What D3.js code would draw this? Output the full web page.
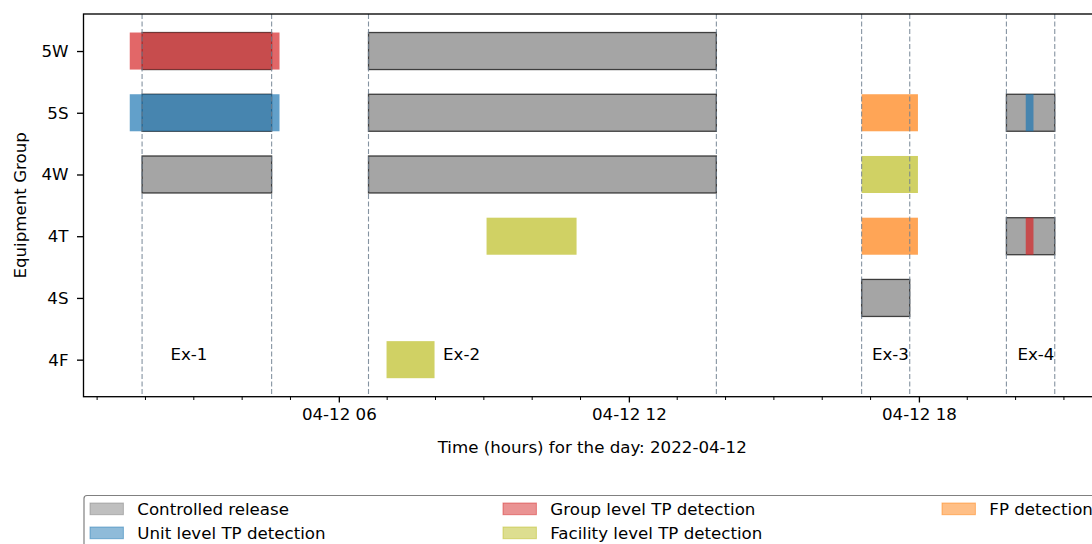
<!DOCTYPE html>
<html>
<head>
<meta charset="utf-8">
<script src="https://cdn.jsdelivr.net/npm/d3@7"></script>
<style>
html,body{margin:0;padding:0;background:#fff;}
svg{display:block;font-family:"DejaVu Sans",sans-serif;}
</style>
</head>
<body>
<svg id="chart" width="1092" height="544"></svg>
<script>
// ---- data (hours of the day 2022-04-12) ----
const groups = ["4F", "4S", "4T", "4W", "5S", "5W"];

const controlledRelease = [
  ["5W", 1.93, 4.61], ["5S", 1.93, 4.61], ["4W", 1.93, 4.61],
  ["5W", 6.614, 13.81], ["5S", 6.614, 13.81], ["4W", 6.614, 13.81],
  ["4S", 16.815, 17.81],
  ["5S", 19.81, 20.81], ["4T", 19.81, 20.81]
];
const unitTP = [["5S", 1.675, 4.773], ["5S", 20.21, 20.37]];
const groupTP = [["5W", 1.675, 4.773], ["4T", 20.21, 20.37]];
const facilityTP = [["4T", 9.056, 10.918], ["4F", 6.987, 7.98], ["4W", 16.815, 17.98]];
const fpDetection = [["5S", 16.815, 17.98], ["4T", 16.815, 17.98]];

const exerciseNames = ["Ex-1", "Ex-2", "Ex-3", "Ex-4"];
const exerciseStart = [1.93, 6.614, 16.815, 19.81];
const exerciseEnd = [4.61, 13.81, 17.81, 20.81];
const exerciseLabelPos = [2.9, 8.54, 17.41, 20.42];

const legendLabels = ["Controlled release", "Unit level TP detection",
  "Group level TP detection", "Facility level TP detection", "FP detection"];

const xLabel = "Time (hours) for the day: 2022-04-12";
const yLabel = "Equipment Group";

// ---- layout ----
const svg = d3.select("#chart");
const L = 83.5, R = 1101, T = 14, B = 396.7;
const fs = 16.67;

const day = Date.UTC(2022, 3, 12);
const toDate = h => new Date(day + h * 3600 * 1000);

const allTimes = [].concat(controlledRelease, unitTP, groupTP, facilityTP, fpDetection)
  .flatMap(d => [d[1], d[2]]).concat(exerciseStart, exerciseEnd);
const tmin = d3.min(allTimes), tmax = d3.max(allTimes);
const pad = (tmax - tmin) * 0.05;

const x = d3.scaleUtc().domain([toDate(tmin - pad), toDate(tmax + pad)]).range([L, R]);
const y = d3.scaleLinear().domain([-0.6, groups.length - 1 + 0.6]).range([B, T]);
const yc = g => y(groups.indexOf(g));
const barH = y(0) - y(0.6);

const plot = svg.append("g");

// bars
function drawBars(data, color, stroke) {
  const r = plot.append("g").selectAll("rect").data(data).join("rect")
    .attr("x", d => x(toDate(d[1])))
    .attr("width", d => x(toDate(d[2])) - x(toDate(d[1])))
    .attr("y", d => yc(d[0]) - barH / 2)
    .attr("height", barH)
    .attr("fill", color).attr("fill-opacity", 0.7);
  if (stroke) r.attr("stroke", stroke).attr("stroke-opacity", 0.7).attr("stroke-width", 1.3);
}
drawBars(controlledRelease, "#7f7f7f", "#000");
drawBars(unitTP, "#1f77b4", null);
drawBars(groupTP, "#d62728", null);
drawBars(facilityTP, "#bcbd22", null);
drawBars(fpDetection, "#ff7f0e", null);

// exercise dashed lines
const lines = exerciseStart.concat(exerciseEnd);
plot.append("g").selectAll("line").data(lines).join("line")
  .attr("x1", d => x(toDate(d))).attr("x2", d => x(toDate(d)))
  .attr("y1", T).attr("y2", B)
  .attr("stroke", "#708090").attr("stroke-opacity", 0.85)
  .attr("stroke-width", 1.1).attr("stroke-dasharray", "5,2.5");

// exercise labels
plot.append("g").selectAll("text").data(exerciseNames).join("text")
  .attr("x", (d, i) => x(toDate(exerciseLabelPos[i])))
  .attr("y", y(0.08))
  .attr("text-anchor", "middle").attr("dominant-baseline", "central")
  .attr("font-size", fs).attr("fill", "#000")
  .text(d => d);

// axes
const xAxis = d3.axisBottom(x)
  .ticks(d3.utcHour.every(6))
  .tickFormat(d3.utcFormat("%m-%d %H"))
  .tickSize(5.8).tickPadding(5.8);
const gx = svg.append("g").attr("transform", `translate(0,${B})`).call(xAxis);
gx.select(".domain").remove();
gx.selectAll("text").attr("font-size", fs).attr("font-family", "DejaVu Sans").attr("fill", "#000");
gx.selectAll("line").attr("stroke", "#000").attr("stroke-width", 1.33);

// minor ticks
const minor = x.ticks(d3.utcHour.every(1)).filter(d => d.getUTCHours() % 6 !== 0);
svg.append("g").selectAll("line").data(minor).join("line")
  .attr("x1", d => x(d)).attr("x2", d => x(d))
  .attr("y1", B).attr("y2", B + 3.3)
  .attr("stroke", "#000").attr("stroke-width", 1.0);

const yAxis = d3.axisLeft(y).tickValues(d3.range(groups.length))
  .tickFormat(i => groups[i]).tickSize(6.5).tickPadding(8.5);
const gy = svg.append("g").attr("transform", `translate(${L},0)`).call(yAxis);
gy.select(".domain").remove();
gy.selectAll("text").attr("font-size", fs).attr("font-family", "DejaVu Sans").attr("fill", "#000");
gy.selectAll("line").attr("stroke", "#000").attr("stroke-width", 1.33);

// frame
svg.append("rect").attr("x", L).attr("y", T).attr("width", R - L).attr("height", B - T)
  .attr("fill", "none").attr("stroke", "#000").attr("stroke-width", 1.33);

// axis labels
svg.append("text").attr("x", (L + R) / 2).attr("y", 453)
  .attr("text-anchor", "middle").attr("font-size", fs).text(xLabel);
svg.append("text").attr("transform", `translate(26,${(T + B) / 2}) rotate(-90)`)
  .attr("text-anchor", "middle").attr("font-size", fs).text(yLabel);

// legend
const legendColors = ["#7f7f7f", "#1f77b4", "#d62728", "#bcbd22", "#ff7f0e"];
const colX = [90, 503, 942];
const rowY = [509, 533];
const lg = svg.append("g");
lg.append("rect").attr("x", 84).attr("y", 495.5).attr("width", R - 84 - 2).attr("height", 80)
  .attr("rx", 3).attr("fill", "#fff").attr("stroke", "#808080").attr("stroke-width", 1.2);
const items = lg.selectAll("g.item").data(legendLabels).join("g")
  .attr("transform", (d, i) => `translate(${colX[Math.floor(i / 2)]},${rowY[i % 2]})`);
items.append("rect").attr("x", 0).attr("y", -6).attr("width", 33.4).attr("height", 11.7)
  .attr("fill", (d, i) => legendColors[i]).attr("fill-opacity", 0.5)
  .attr("stroke", (d, i) => legendColors[i]).attr("stroke-opacity", 0.5).attr("stroke-width", 1);
items.append("text").attr("x", 47.3).attr("y", 0).attr("dominant-baseline", "central")
  .attr("font-size", fs).text(d => d);
</script>
</body>
</html>
